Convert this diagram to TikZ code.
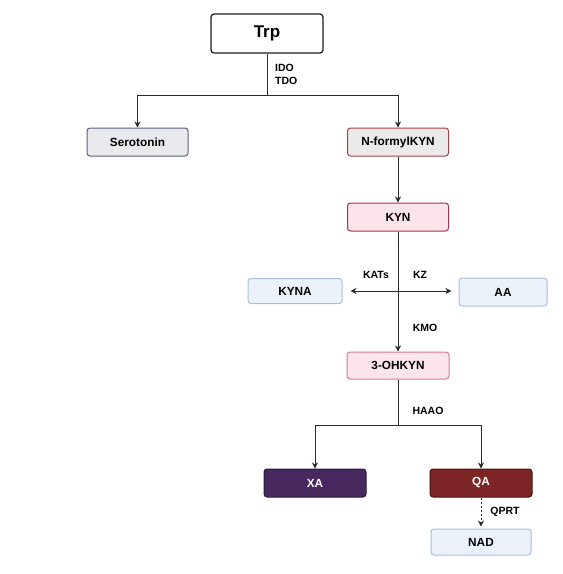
\documentclass[tikz,border=0pt]{standalone}
\usepackage{fontspec}
\setmainfont{Liberation Sans}
\usetikzlibrary{arrows.meta}
\definecolor{trpborder}{HTML}{1A1A1A}
\definecolor{serofill}{HTML}{E9E9EE}
\definecolor{seroborder}{HTML}{5A6080}
\definecolor{nffill}{HTML}{EAEAEA}
\definecolor{nfborder}{HTML}{A8404A}
\definecolor{kynfill}{HTML}{FBE3EA}
\definecolor{kynborder}{HTML}{A83050}
\definecolor{ohfill}{HTML}{FCE4EC}
\definecolor{ohborder}{HTML}{D47A92}
\definecolor{bluefill}{HTML}{ECF2FA}
\definecolor{blueborder}{HTML}{A9BEDB}
\definecolor{xafill}{HTML}{47295F}
\definecolor{xaborder}{HTML}{2A1A3A}
\definecolor{qafill}{HTML}{7D2424}
\definecolor{qaborder}{HTML}{4A1515}
\definecolor{linecol}{HTML}{2A2A2A}
\tikzset{
  box/.style={rectangle, rounded corners=3pt, line width=1pt, inner sep=0pt,
    font=\fontsize{11.8}{13}\selectfont\bfseries, minimum height=28pt},
  enz/.style={font=\fontsize{10.5}{12.5}\selectfont\bfseries, inner sep=0pt},
  conn/.style={draw=linecol, line width=1pt},
  arr/.style={conn, -{Stealth[length=6pt,width=6pt]}},
}
\begin{document}
\begin{tikzpicture}[x=1pt,y=-1pt]
\useasboundingbox (0,0) rectangle (563,574);
\node[box, draw=trpborder, fill=white, line width=1.2pt, minimum width=112pt, minimum height=39pt,
  font=\fontsize{17}{19}\selectfont\bfseries] (trp) at (267,33.5) {Trp};
\node[box, draw=seroborder, fill=serofill, minimum width=101pt] (sero) at (137.5,142) {Serotonin};
\node[box, draw=nfborder, fill=nffill, minimum width=101pt] (nfk) at (398,142) {N-formylKYN};
\node[box, draw=kynborder, fill=kynfill, minimum width=101pt] (kyn) at (398,217) {KYN};
\node[box, draw=blueborder, fill=bluefill, minimum width=94pt, minimum height=25pt] (kyna) at (295,291) {KYNA};
\node[box, draw=blueborder, fill=bluefill, minimum width=88pt] (aa) at (503,292) {AA};
\node[box, draw=ohborder, fill=ohfill, minimum width=102pt, minimum height=27pt] (oh) at (398,365.5) {3-OHKYN};
\node[box, draw=xaborder, fill=xafill, text=white, minimum width=102pt] (xa) at (315,483) {XA};
\node[box, draw=qaborder, fill=qafill, text=white, minimum width=102pt] (qa) at (481,483) {QA};
\node[box, draw=blueborder, fill=bluefill, minimum width=100pt, minimum height=26pt] (nad) at (481,542) {NAD};

\coordinate (j1) at (267,95);
\coordinate (j2) at (398,425);

\draw[conn] (trp) -- (j1);
\draw[arr] (j1) -| (sero);
\draw[arr] (j1) -| (nfk);
\draw[arr] (nfk) -- (kyn);
\draw[arr] (kyn) -- (oh);
\draw[conn, {Stealth[length=6pt,width=6pt]}-{Stealth[length=6pt,width=6pt]}, shorten <=8pt, shorten >=7pt] (kyna.east) -- (aa.west |- kyna.east);
\draw[conn] (oh) -- (j2);
\draw[arr] (j2) -| (xa);
\draw[arr] (j2) -| (qa);
\draw[arr, dash pattern=on 2pt off 2pt, shorten >=2pt] (qa) -- (nad);

\node[enz, anchor=west, align=left] (ido) at (275,74.5) {IDO\\TDO};
\node[enz] (kats) at (376,275) {KATs};
\node[enz] (kz) at (420,275) {KZ};
\node[enz] (kmo) at (425,328) {KMO};
\node[enz] (haao) at (428,411) {HAAO};
\node[enz] (qprt) at (505,512) {QPRT};
\end{tikzpicture}
\end{document}
